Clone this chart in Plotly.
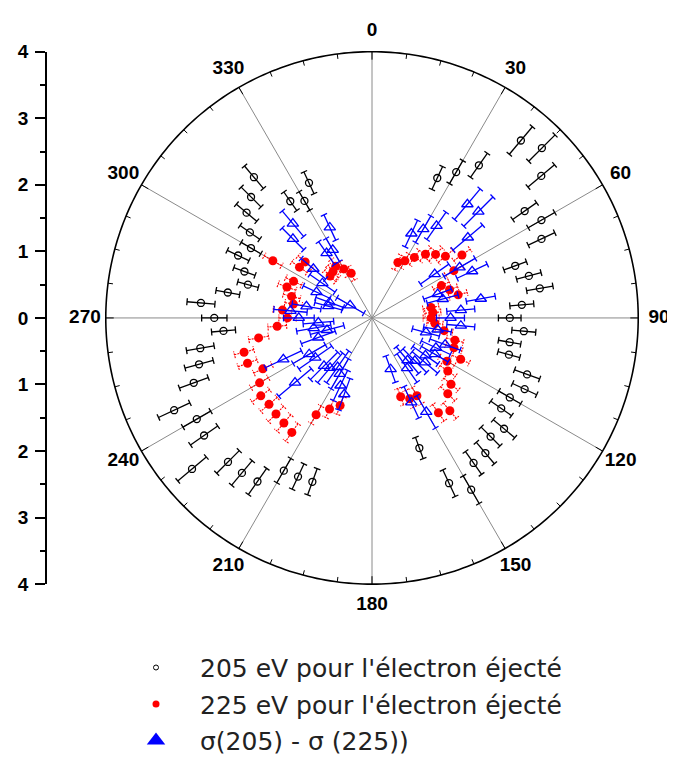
import math
import plotly.graph_objects as go

# ---------------- data ----------------
ANGLES = [25, 30, 35, 40, 45, 50, 55, 60, 65, 70, 75, 80, 85, 90,
          95, 100, 105, 110, 115, 120, 125, 130, 135, 140, 145, 150, 155, 160,
          200, 205, 210, 215, 220, 225, 230, 235, 240, 245, 250, 255, 260, 265,
          270, 275, 280, 285, 290, 295, 300, 305, 310, 315, 320, 325, 330, 335]

R_205 = [2.32, 2.53, 2.80, 3.48, 3.61, 3.32, 2.80, 2.94, 2.81, 2.29, 2.44, 2.56, 2.26, 2.07,
         2.29, 2.10, 2.13, 2.48, 2.53, 2.39, 2.37, 2.59, 2.52, 2.65, 2.66, 2.98, 2.74, 2.08,
         2.62, 2.63, 2.65, 3.00, 3.04, 3.06, 3.53, 3.08, 3.04, 3.28, 2.85, 2.69, 2.62, 2.24,
         2.37, 2.58, 2.20, 1.93, 2.04, 2.22, 2.10, 2.24, 2.46, 2.57, 2.76, 2.14, 2.03, 2.24]
ERR_205 = [0.19, 0.20, 0.22, 0.27, 0.28, 0.26, 0.22, 0.23, 0.22, 0.18, 0.19, 0.20, 0.18, 0.17,
           0.18, 0.17, 0.17, 0.20, 0.20, 0.19, 0.19, 0.21, 0.20, 0.21, 0.21, 0.24, 0.22, 0.17,
           0.21, 0.21, 0.21, 0.24, 0.24, 0.24, 0.28, 0.25, 0.24, 0.26, 0.23, 0.22, 0.21, 0.18,
           0.19, 0.21, 0.18, 0.16, 0.17, 0.18, 0.17, 0.18, 0.20, 0.21, 0.22, 0.17, 0.16, 0.18]

R_225 = [0.92, 0.99, 1.11, 1.25, 1.35, 1.44, 1.65, 1.42, 1.15, 1.24, 1.34, 0.90, 0.92, 0.89,
         0.95, 1.10, 1.29, 1.31, 1.47, 1.30, 1.39, 1.55, 1.61, 1.82, 1.74, 1.35, 1.34, 1.26,
         1.40, 1.51, 1.68, 2.10, 2.06, 2.04, 2.02, 2.04, 1.95, 1.81, 1.99, 1.99, 1.73, 1.43,
         1.27, 1.35, 1.20, 1.25, 1.36, 1.30, 1.72, 1.33, 1.31, 0.89, 0.91, 0.95, 0.85, 0.74]
ERR_225 = [0.12, 0.12, 0.13, 0.13, 0.14, 0.14, 0.15, 0.14, 0.13, 0.13, 0.14, 0.12, 0.12, 0.12,
           0.12, 0.13, 0.13, 0.13, 0.14, 0.13, 0.14, 0.14, 0.15, 0.15, 0.15, 0.14, 0.14, 0.13,
           0.14, 0.14, 0.15, 0.16, 0.16, 0.16, 0.16, 0.16, 0.15, 0.15, 0.15, 0.15, 0.15, 0.14,
           0.13, 0.14, 0.13, 0.13, 0.14, 0.13, 0.15, 0.14, 0.14, 0.12, 0.12, 0.12, 0.12, 0.11]

R_DIFF = [1.40, 1.54, 1.69, 2.23, 2.26, 1.88, 1.15, 1.52, 1.66, 1.05, 1.10, 1.66, 1.34, 1.18,
          1.34, 1.00, 0.84, 1.17, 1.06, 1.09, 0.98, 1.04, 0.91, 0.83, 0.92, 1.63, 1.40, 0.82,
          1.22, 1.12, 0.97, 0.90, 0.98, 1.02, 1.51, 1.04, 1.09, 1.47, 0.86, 0.70, 0.89, 0.81,
          1.10, 1.23, 1.00, 0.68, 0.68, 0.92, 0.38, 0.91, 1.15, 1.68, 1.85, 1.19, 1.18, 1.50]
ERR_DIFF = [0.22, 0.23, 0.25, 0.30, 0.31, 0.29, 0.26, 0.27, 0.25, 0.22, 0.24, 0.22, 0.21, 0.21,
            0.21, 0.21, 0.21, 0.24, 0.24, 0.23, 0.23, 0.25, 0.25, 0.26, 0.26, 0.28, 0.26, 0.21,
            0.25, 0.25, 0.26, 0.29, 0.29, 0.29, 0.32, 0.30, 0.28, 0.30, 0.27, 0.26, 0.26, 0.23,
            0.23, 0.25, 0.22, 0.21, 0.22, 0.22, 0.23, 0.23, 0.24, 0.23, 0.25, 0.21, 0.20, 0.21]

ANGLE_TICKS = [0, 30, 60, 90, 120, 150, 180, 210, 240, 270, 300, 330]
ANGLE_LABELS = ["0", "30", "60", "90", "120", "150", "180", "210", "240", "270", "300", "330"]
LEFT_TICKVALS = [4, 3, 2, 1, 0, -1, -2, -3, -4]
LEFT_TICKTEXT = ["4", "3", "2", "1", "0", "1", "2", "3", "4"]
NAMES = ["205 eV pour l'électron éjecté",
         "225 eV pour l'électron éjecté",
         "σ(205) - σ (225))"]

# ---------------- layout constants (page has an 8px body margin) ----------------
W, H = 667, 756
CX, CY = 364, 312                    # circle centre in figure pixels
RMAX = 4                             # radius of the drawn outer circle
RVIEW = 4.45                         # radial range of the polar area (room for labels)
PX = 268 / RMAX                      # pixels per radial unit
LABEL_R = 289 / PX                   # radius of the angle labels
MINOR_STEP = 7.5
AXIS_X = 38

BLACK, RED, BLUE, GRID = "#000000", "#ff0000", "#0000ff", "#8a8a8a"


def errbars(theta, r, e, cap_px):
    rr, tt = [], []
    for t, v, d in zip(theta, r, e):
        lo, hi = max(v - d, 0.01), v + d
        rr += [lo, hi, None]
        tt += [t, t, None]
        for end in (lo, hi):
            dt = math.degrees(cap_px / (end * PX))
            rr += [end, end, None]
            tt += [t - dt, t + dt, None]
    return rr, tt


fig = go.Figure()

# radial grid lines every 30 degrees
for a in ANGLE_TICKS:
    fig.add_trace(go.Scatterpolar(r=[0, RMAX], theta=[a, a], mode="lines",
                                  line=dict(color=GRID, width=1),
                                  showlegend=False, hoverinfo="skip"))

# outer circle
circ_t = list(range(0, 361))
fig.add_trace(go.Scatterpolar(r=[RMAX] * len(circ_t), theta=circ_t, mode="lines",
                              line=dict(color=BLACK, width=1.6),
                              showlegend=False, hoverinfo="skip"))

# inward ticks on the outer circle
tick_r, tick_t = [], []
n_minor = int(round(360 / MINOR_STEP))
for i in range(n_minor):
    a = i * MINOR_STEP
    ln = 8 if i % 4 == 0 else 5
    tick_r += [RMAX - ln / PX, RMAX, None]
    tick_t += [a, a, None]
fig.add_trace(go.Scatterpolar(r=tick_r, theta=tick_t, mode="lines",
                              line=dict(color=BLACK, width=1),
                              showlegend=False, hoverinfo="skip"))

# angle labels around the circle
fig.add_trace(go.Scatterpolar(r=[LABEL_R] * len(ANGLE_TICKS), theta=ANGLE_TICKS,
                              mode="text", text=ANGLE_LABELS, textposition="middle center",
                              textfont=dict(family="Liberation Sans", size=19, color=BLACK,
                                            weight="bold"),
                              cliponaxis=False, showlegend=False, hoverinfo="skip"))

series = [
    (R_205, ERR_205, dict(color=BLACK, width=1.3),
     dict(symbol="circle-open", size=7, color=BLACK, line=dict(width=1.3))),
    (R_225, ERR_225, dict(color=RED, width=1.1, dash="2px,1px"),
     dict(symbol="circle", size=9, color=RED)),
    (R_DIFF, ERR_DIFF, dict(color=BLUE, width=1.3),
     dict(symbol="triangle-up-open", size=10, color=BLUE, line=dict(width=1.3))),
]
for r, e, ln, mk in series:
    er, et = errbars(ANGLES, r, e, 3.5)
    fig.add_trace(go.Scatterpolar(r=er, theta=et, mode="lines", line=ln,
                                  showlegend=False, hoverinfo="skip"))
    fig.add_trace(go.Scatterpolar(r=r, theta=ANGLES, mode="markers", marker=mk,
                                  showlegend=False))

# legend-only entries
legend_markers = [
    dict(symbol="circle-open", size=5, color=BLACK, line=dict(width=1)),
    dict(symbol="circle", size=7, color=RED),
    dict(symbol="triangle-up", size=16, color=BLUE),
]
for i, (nm, mk) in enumerate(zip(NAMES, legend_markers)):
    fig.add_trace(go.Scatterpolar(r=[None], theta=[None], mode="markers", marker=mk,
                                  name=nm, legendgroup=f"g{i}"))

# invisible cartesian trace to carry the left vertical scale
fig.add_trace(go.Scatter(x=[None], y=[None], showlegend=False, hoverinfo="skip"))

RAD_VIEW = RVIEW * PX
dom_x = [(CX - RAD_VIEW) / W, (CX + RAD_VIEW) / W]
dom_y = [(H - CY - RAD_VIEW) / H, (H - CY + RAD_VIEW) / H]
axis_dom_y = [(H - CY - RMAX * PX) / H, (H - CY + RMAX * PX) / H]

fig.update_layout(
    template="none",
    width=W, height=H,
    margin=dict(l=0, r=0, t=0, b=0),
    paper_bgcolor="white",
    plot_bgcolor="rgba(0,0,0,0)",
    polar=dict(
        domain=dict(x=dom_x, y=dom_y),
        bgcolor="rgba(0,0,0,0)",
        radialaxis=dict(range=[0, RVIEW], visible=False, showgrid=False),
        angularaxis=dict(
            rotation=90, direction="clockwise",
            showticklabels=False, ticks="",
            showgrid=False, showline=False,
        ),
    ),
    xaxis=dict(visible=False, domain=[0, 0.05], range=[0, 1]),
    yaxis=dict(
        anchor="free", position=AXIS_X / W, domain=axis_dom_y, range=[-RMAX, RMAX],
        tickmode="array", tickvals=LEFT_TICKVALS, ticktext=LEFT_TICKTEXT,
        ticks="outside", ticklen=10, tickwidth=1.5, tickcolor=BLACK,
        showline=True, linecolor=BLACK, linewidth=1.5,
        showgrid=False, zeroline=False, ticklabelstandoff=3,
        minor=dict(ticks="outside", ticklen=5, tickwidth=1.5, tickcolor=BLACK, dtick=0.5, showgrid=False),
        tickfont=dict(family="Liberation Sans", size=19, color=BLACK, weight="bold"),
    ),
    showlegend=True,
    legend=dict(
        x=104 / W, y=1 - 641 / H, xanchor="left", yanchor="top",
        font=dict(family="DejaVu Sans", size=25, color="#222222"),
        bgcolor="rgba(0,0,0,0)", tracegroupgap=1, itemwidth=78,
    ),
)

fig.write_html("out.html")
